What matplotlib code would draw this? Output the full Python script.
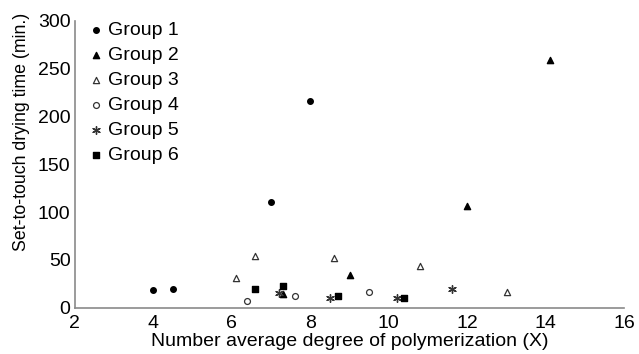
import matplotlib.pyplot as plt

plt.rcParams['font.family'] = ['Liberation Sans', 'DejaVu Sans']

# data
g1_x = [4.0, 4.5, 7.0, 8.0]
g1_y = [18, 20, 110, 216]
g2_x = [7.3, 9.0, 12.0, 14.1]
g2_y = [14, 34, 106, 259]
g3_x = [6.1, 6.6, 8.6, 10.8, 13.0]
g3_y = [31, 54, 52, 44, 16]
g4_x = [6.4, 7.6, 9.5]
g4_y = [7, 12, 16]
g5_x = [7.2, 8.5, 10.2, 11.6]
g5_y = [15, 10, 10, 20]
g6_x = [6.6, 7.3, 8.7, 10.4]
g6_y = [20, 23, 12, 10]

fig = plt.figure(figsize=(6.39, 3.54), dpi=100)
ax = fig.add_axes([0.117, 0.131, 0.86, 0.81])

ax.scatter(g1_x, g1_y, marker='o', s=16, color='black', label='Group 1')
ax.scatter(g2_x, g2_y, marker='^', s=20, color='black', label='Group 2')
ax.scatter(g3_x, g3_y, marker='^', s=20, facecolors='white', edgecolors='#333333', linewidths=0.9, label='Group 3')
ax.scatter(g4_x, g4_y, marker='o', s=18, facecolors='white', edgecolors='#333333', linewidths=0.9, label='Group 4')
ax.scatter(g5_x, g5_y, marker=(6, 2, 0), s=30, color='#333333', linewidths=1.0, label='Group 5')
ax.scatter(g6_x, g6_y, marker='s', s=18, color='black', label='Group 6')

ax.set_xlim(2, 16)
ax.set_ylim(0, 300)
ax.set_xticks([2, 4, 6, 8, 10, 12, 14, 16])
ax.set_yticks([0, 50, 100, 150, 200, 250, 300])
ax.tick_params(length=0, labelsize=14)
ax.tick_params(axis='x', pad=5)
ax.tick_params(axis='y', pad=3)
for s in ['top', 'right']:
    ax.spines[s].set_visible(False)
for s in ['left', 'bottom']:
    ax.spines[s].set_color('#8a8a8a')
    ax.spines[s].set_linewidth(1.2)

ax.set_xlabel('Number average degree of polymerization (X)', fontsize=14, labelpad=1)
ax.set_ylabel('Set-to-touch drying time (min.)', fontsize=12.8)
ax.yaxis.set_label_coords(-0.082, 0.613)

ax.legend(loc='upper left', bbox_to_anchor=(-0.004, 1.045), frameon=False, fontsize=14,
          handletextpad=0.1, handlelength=1.0, labelspacing=0.38, borderpad=0.2)

fig.savefig('out.png', dpi=100)
